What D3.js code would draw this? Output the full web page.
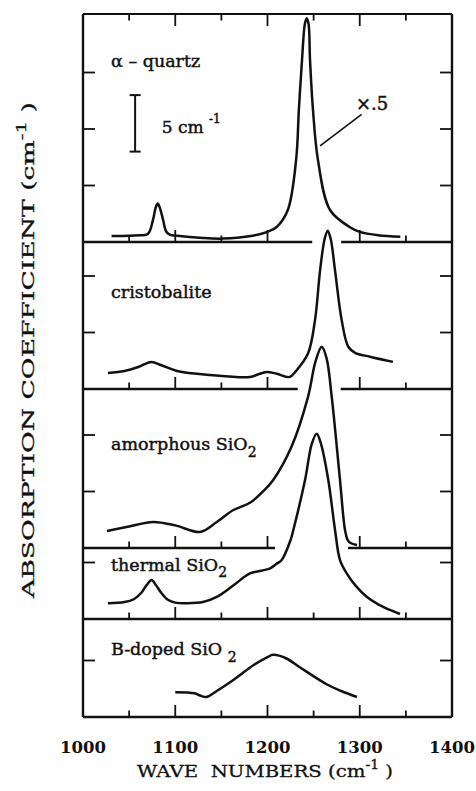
<!DOCTYPE html>
<html>
<head>
<meta charset="utf-8">
<script src="https://cdn.jsdelivr.net/npm/d3@7"></script>
<style>
  body { margin: 0; background: #fff; }
  text { font-family: "DejaVu Serif", serif; fill: #111; stroke: #111; stroke-width: 0.45px; white-space: pre; }
  text.xlab { font-weight: bold; stroke-width: 0; }
  text.title { stroke-width: 0.3px; }
</style>
</head>
<body>
<div id="chart-area"></div>
<script>
// [wave number (cm-1), absorption (cm-1) above the panel baseline]
const quartz = [[1031,0.53],[1050,0.55],[1062,0.6],[1069,0.65],[1072,0.9],[1076,2.0],[1079,3.1],[1081,3.4],[1083,3.1],
  [1087,1.9],[1090,0.95],[1094,0.65],[1102,0.55],[1130,0.35],[1152,0.3],[1180,0.5],[1200,0.9],[1210,1.33],
  [1222,2.83],[1231,7.26],[1234,11.7],[1237.4,16.1],[1240.5,19.3],[1242.5,19.8],[1244.5,19.3],[1246.1,16.1],
  [1249.3,11.7],[1254.7,7.26],[1267.8,2.83],[1289,1.33],[1300,0.9],[1320,0.6],[1344,0.47]];
const cristobalite = [[1027,1.42],[1045,1.6],[1060,1.95],[1074,2.4],[1085,2.1],[1102,1.6],[1138,1.24],[1181,1.06],
  [1190,1.3],[1199,1.5],[1210,1.35],[1224,1.06],[1231,1.6],[1244,3.16],[1251.5,6.1],[1257,10.5],[1262,13.3],
  [1265.3,14.0],[1268.5,13.3],[1273.2,10.5],[1280.4,6.1],[1287.6,3.74],[1295,3.2],[1311,2.86],[1336,2.4]];
const amorphous = [[1026,1.5],[1050,1.9],[1076,2.3],[1100,2.0],[1127,1.42],[1145,2.3],[1163,3.36],[1181,4.0],
  [1195,5.0],[1206,6.0],[1226,8.96],[1244,13.4],[1252,16.5],[1258.8,17.8],[1264,16.8],[1269.6,13.4],
  [1278.6,6.0],[1284,1.6],[1287,0.7],[1290,0.44],[1297,0.27]];
const thermal = [[1027,1.4],[1045,1.5],[1055,1.75],[1063,2.3],[1069,3.0],[1074.4,3.45],[1079,3.0],[1085,2.3],
  [1092,1.7],[1100,1.45],[1112,1.4],[1130,1.5],[1145,1.95],[1165,3.1],[1181,4.04],[1195,4.3],[1203,4.49],
  [1210,4.9],[1215.4,5.22],[1225,6.99],[1228,7.88],[1240.7,12.3],[1248,15.5],[1253.3,16.4],[1258,15.5],
  [1265.9,12.3],[1273.2,7.88],[1278.6,5.22],[1285.9,4.04],[1295,3.0],[1307.5,1.97],[1320,1.3],[1332.8,0.8],
  [1343.6,0.44]];
const bDoped = [[1100,2.2],[1121,2.1],[1127,1.9],[1134,1.77],[1145,2.3],[1163,3.27],[1185,4.6],[1200,5.3],
  [1206,5.5],[1220,5.2],[1235,4.4],[1264,2.9],[1280,2.3],[1297,1.77]];

const spectra = [quartz, cristobalite, amorphous, thermal, bDoped];
const sampleNames = ["α – quartz", "cristobalite", "amorphous SiO", "thermal SiO", "B-doped SiO "];
const nameSubs = ["", "", "2", "2", "2"];
const majorTicks = [1000, 1100, 1200, 1300, 1400];
const minorTicks = [1050, 1150, 1250, 1350];
const scaleBar = 5;          // cm-1
const halfNote = "×.5";

const svg = d3.select("#chart-area")
    .append("svg")
        .attr("width", 476)
        .attr("height", 791);

const x = d3.scaleLinear().domain([1000, 1400]).range([83, 452]);
const pxPerUnit = 11.3;
const tops = [14, 242, 389, 548, 619];
const bottoms = [242, 389, 548, 619, 717];
const yScales = bottoms.map((b) => d3.scaleLinear().domain([0, 1]).range([b, b - pxPerUnit]));

// where do curves of lower panels cross a panel's baseline -> gap in the line
function gapAt(i) {
    const yb = bottoms[i];
    let xs = [];
    for (let j = i + 1; j < spectra.length; j++) {
        const pts = spectra[j].map((d) => [x(d[0]), yScales[j](d[1])]);
        for (let k = 1; k < pts.length; k++) {
            const a = pts[k - 1], b = pts[k];
            if ((a[1] - yb) * (b[1] - yb) <= 0 && a[1] !== b[1]) {
                xs.push(a[0] + (b[0] - a[0]) * (yb - a[1]) / (b[1] - a[1]));
            }
        }
    }
    if (!xs.length) return null;
    return [d3.min(xs) - 12, d3.max(xs) + 10];
}

const frame = svg.append("g").attr("stroke", "#111").attr("fill", "none");

// outer box
frame.append("line").attr("x1", 83).attr("x2", 452).attr("y1", 14).attr("y2", 14).attr("stroke-width", 2);
frame.append("line").attr("x1", 83).attr("x2", 83).attr("y1", 14).attr("y2", 717).attr("stroke-width", 2.4);
frame.append("line").attr("x1", 452).attr("x2", 452).attr("y1", 14).attr("y2", 717).attr("stroke-width", 2.4);

const allTicks = majorTicks.concat(minorTicks).filter((t) => t > 1000 && t < 1400);

// top ticks
allTicks.forEach((t) => {
    frame.append("line")
        .attr("x1", x(t)).attr("x2", x(t))
        .attr("y1", 14).attr("y2", 14 + (majorTicks.includes(t) ? 12 : 6.5))
        .attr("stroke-width", 1.8);
});

// panel baselines with their ticks
bottoms.forEach((b, i) => {
    const gap = i < bottoms.length - 1 ? gapAt(i) : null;
    const segs = gap ? [[83, gap[0]], [gap[1], 452]] : [[83, 452]];
    segs.forEach((s) => {
        frame.append("line").attr("x1", s[0]).attr("x2", s[1]).attr("y1", b).attr("y2", b)
            .attr("stroke-width", 2.4);
    });
    allTicks.forEach((t) => {
        if (gap && x(t) > gap[0] && x(t) < gap[1]) return;
        frame.append("line")
            .attr("x1", x(t)).attr("x2", x(t))
            .attr("y1", b).attr("y2", b - (majorTicks.includes(t) ? 12 : 6.5))
            .attr("stroke-width", 1.8);
    });
    // y ticks every 5 cm-1
    for (let v = 5; yScales[i](v) > tops[i] + 8; v += 5) {
        const yy = yScales[i](v);
        frame.append("line").attr("x1", 83).attr("x2", 95).attr("y1", yy).attr("y2", yy).attr("stroke-width", 1.8);
        frame.append("line").attr("x1", 440).attr("x2", 452).attr("y1", yy).attr("y2", yy).attr("stroke-width", 1.8);
    }
});

// spectra
spectra.forEach((data, i) => {
    const line = d3.line()
        .x((d) => x(d[0]))
        .y((d) => yScales[i](d[1]))
        .curve(d3.curveCatmullRom.alpha(0.5));
    svg.append("path")
        .datum(data)
        .attr("d", line)
        .attr("fill", "none")
        .attr("stroke", "#111")
        .attr("stroke-width", 2.5)
        .attr("stroke-linejoin", "round");
});

// sample names
const labelY = [66.7, 298.3, 450, 570.7, 655];
sampleNames.forEach((name, i) => {
    const t = svg.append("text").attr("x", 111).attr("y", labelY[i]).attr("font-size", 17.5);
    t.append("tspan").text(name);
    if (nameSubs[i]) {
        t.append("tspan").attr("dy", 6.5).attr("font-size", 14).text(nameSubs[i]);
    }
});

// 5 cm-1 scale bar in the quartz panel
const barX = x(1056.5), barLo = yScales[0](8.0), barHi = yScales[0](8.0 + scaleBar);
frame.append("line").attr("x1", barX).attr("x2", barX).attr("y1", barLo).attr("y2", barHi).attr("stroke-width", 2);
[barLo, barHi].forEach((yy) => {
    frame.append("line").attr("x1", barX - 5.5).attr("x2", barX + 5.5).attr("y1", yy).attr("y2", yy).attr("stroke-width", 2);
});
const barText = svg.append("text").attr("x", 161.7).attr("y", 132.7).attr("font-size", 17);
barText.append("tspan").text(scaleBar + " cm ");
barText.append("tspan").attr("dy", -10).attr("font-size", 12).text("-1");

// x.5 note with leader
svg.append("text").attr("x", 356).attr("y", 110).attr("font-size", 18).text(halfNote);
frame.append("line")
    .attr("x1", x(1257)).attr("y1", yScales[0](8.5))
    .attr("x2", x(1302)).attr("y2", yScales[0](11.3))
    .attr("stroke-width", 1.6);

// x tick labels
svg.selectAll(".xlab")
    .data(majorTicks)
    .enter()
    .append("text")
        .attr("class", "xlab")
        .attr("x", (d) => x(d))
        .attr("y", 753)
        .attr("text-anchor", "middle")
        .attr("font-size", 16.5)
        .text((d) => d);

// axis titles
const xTitle = svg.append("text")
    .attr("class", "title")
    .attr("x", 265).attr("y", 777)
    .attr("text-anchor", "middle")
    .attr("font-size", 17)
    .attr("textLength", 256)
    .attr("lengthAdjust", "spacingAndGlyphs");
xTitle.append("tspan").text("WAVE  NUMBERS (cm");
xTitle.append("tspan").attr("dy", -8).attr("font-size", 12).text("-1");
xTitle.append("tspan").attr("dy", 8).text(" )");

const yTitle = svg.append("text")
    .attr("class", "title")
    .attr("transform", "translate(34,350) rotate(-90)")
    .attr("text-anchor", "middle")
    .attr("font-size", 16)
    .attr("textLength", 496)
    .attr("lengthAdjust", "spacingAndGlyphs");
yTitle.append("tspan").text("ABSORPTION COEFFICIENT (cm");
yTitle.append("tspan").attr("dy", -8).attr("font-size", 12).text("-1");
yTitle.append("tspan").attr("dy", 8).text(" )");
</script>
</body>
</html>
